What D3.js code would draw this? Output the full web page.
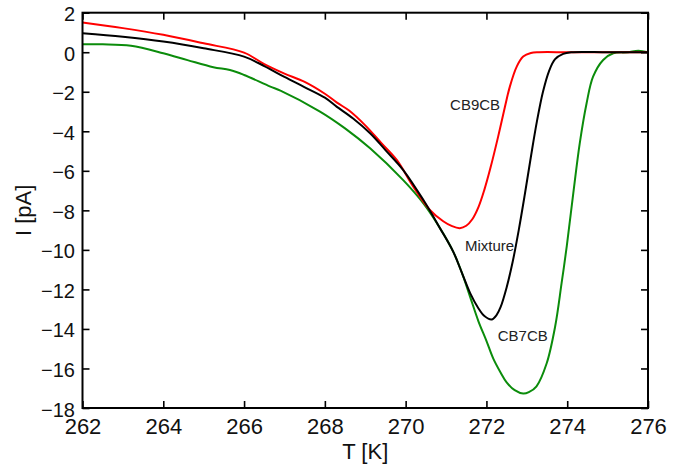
<!DOCTYPE html>
<html>
<head>
<meta charset="utf-8">
<script src="https://cdn.jsdelivr.net/npm/d3@7"></script>
<style>
  html, body { margin: 0; padding: 0; background: #fff; }
  svg { display: block; font-family: "Liberation Sans", Arial, Helvetica, sans-serif; }
</style>
</head>
<body>
<svg id="chart" width="685" height="468"></svg>
<script>
// Temperature (K) and current (pA) for each sample
const cb9cbT = [262, 263, 264, 265, 266, 266.5, 267, 267.5, 268, 268.3, 268.6, 269, 269.4, 269.78, 270.19, 270.6, 270.93, 271.15, 271.34, 271.5, 271.65, 271.8, 271.95, 272.1, 272.29, 272.46, 272.58, 272.75, 272.91, 273.1, 273.3, 274, 275, 276];
const cb9cbI = [1.5, 1.22, 0.88, 0.45, -0.02, -0.6, -1.08, -1.5, -2.1, -2.55, -2.95, -3.7, -4.6, -5.45, -6.8, -7.98, -8.55, -8.8, -8.9, -8.78, -8.45, -7.85, -6.95, -5.85, -4.27, -2.75, -1.74, -0.73, -0.22, -0.04, 0, 0, 0, 0];

const mixT = [262, 263, 264, 265, 266, 266.5, 267, 267.47, 268, 268.29, 268.7, 269.12, 269.5, 269.94, 270.44, 270.85, 271.18, 271.4, 271.6, 271.8, 271.95, 272.13, 272.25, 272.35, 272.5, 272.65, 272.8, 272.95, 273.1, 273.25, 273.4, 273.55, 273.7, 273.9, 274.1, 275, 276];
const mixI = [0.96, 0.78, 0.54, 0.2, -0.22, -0.7, -1.25, -1.74, -2.3, -2.75, -3.35, -4.1, -4.95, -5.96, -7.48, -8.9, -10.1, -11.2, -12.2, -12.95, -13.35, -13.52, -13.3, -12.9, -11.9, -10.6, -9.0, -7.2, -5.3, -3.5, -2.0, -0.95, -0.35, -0.08, 0, 0, 0];

const cb7cbT = [262, 262.5, 263.2, 264, 264.6, 265.24, 265.65, 266, 266.65, 266.9, 267.88, 268.5, 269.12, 269.94, 270.44, 270.85, 271.18, 271.4, 271.6, 271.8, 272.0, 272.17, 272.35, 272.5, 272.7, 272.91, 273.05, 273.24, 273.49, 273.7, 273.86, 273.99, 274.15, 274.31, 274.48, 274.64, 274.89, 275.14, 275.5, 275.76, 276];
const cb7cbI = [0.4, 0.4, 0.33, -0.05, -0.4, -0.76, -0.9, -1.15, -1.74, -1.94, -3.0, -3.85, -4.86, -6.47, -7.65, -8.9, -10.1, -11.2, -12.4, -13.6, -14.6, -15.5, -16.2, -16.7, -17.1, -17.27, -17.2, -16.9, -15.75, -13.89, -11.7, -9.8, -7.14, -4.61, -2.58, -1.24, -0.39, -0.05, 0, 0.08, 0];

const xTicks = [262, 264, 266, 268, 270, 272, 274, 276];
const yTicks = [2, 0, -2, -4, -6, -8, -10, -12, -14, -16, -18];

const seriesNames = ["CB9CB", "Mixture", "CB7CB"];
const seriesColors = ["#ff0000", "#000000", "#0b8c0b"];
// label anchor in data units (T, I)
const labelT = [271.1, 271.47, 272.28];
const labelI = [-2.92, -10.06, -14.6];

const svg = d3.select("#chart");
const plotLeft = 82.5, plotRight = 648, plotTop = 12.7, plotBottom = 408;

const x = d3.scaleLinear().domain([262, 276]).range([plotLeft, plotRight]);
const y = d3.scaleLinear().domain([-18, 2]).range([plotBottom, plotTop]);

const series = [
  { name: seriesNames[0], color: seriesColors[0], pts: cb9cbT.map((t, i) => [t, cb9cbI[i]]) },
  { name: seriesNames[1], color: seriesColors[1], pts: mixT.map((t, i) => [t, mixI[i]]) },
  { name: seriesNames[2], color: seriesColors[2], pts: cb7cbT.map((t, i) => [t, cb7cbI[i]]) }
];

const line = d3.line()
  .x(d => x(d[0]))
  .y(d => y(d[1]))
  .curve(d3.curveCatmullRom.alpha(0.5));

// curves: green first, then red, then black on top
[2, 0, 1].forEach(k => {
  svg.append("path")
    .attr("d", line(series[k].pts))
    .attr("fill", "none")
    .attr("stroke", series[k].color)
    .attr("stroke-width", 2);
});

// axes with inward ticks on all four sides
const tickLen = 7;
function styleAxis(g) {
  g.select(".domain").remove();
  g.selectAll(".tick line").attr("stroke", "#000").attr("stroke-width", 1.6);
}

svg.append("g")
  .attr("transform", `translate(0,${plotBottom})`)
  .call(d3.axisBottom(x).tickValues(xTicks).tickSize(-tickLen).tickPadding(10).tickFormat(d3.format("d")))
  .call(styleAxis)
  .call(g => g.selectAll("text").attr("font-size", 22).attr("fill", "#111").style("font-family", "Liberation Sans, Arial, sans-serif"));

svg.append("g")
  .attr("transform", `translate(0,${plotTop})`)
  .call(d3.axisTop(x).tickValues(xTicks).tickSize(-tickLen).tickFormat(""))
  .call(styleAxis);

svg.append("g")
  .attr("transform", `translate(${plotLeft},0)`)
  .call(d3.axisLeft(y).tickValues(yTicks).tickSize(-tickLen).tickPadding(7.5).tickFormat(d3.format("d")))
  .call(styleAxis)
  .call(g => g.selectAll("text").attr("font-size", 20).attr("fill", "#111").attr("dy", "0.4em").style("font-family", "Liberation Sans, Arial, sans-serif"));

svg.append("g")
  .attr("transform", `translate(${plotRight},0)`)
  .call(d3.axisRight(y).tickValues(yTicks).tickSize(-tickLen).tickFormat(""))
  .call(styleAxis);

// frame
svg.append("rect")
  .attr("x", plotLeft).attr("y", plotTop)
  .attr("width", plotRight - plotLeft).attr("height", plotBottom - plotTop)
  .attr("fill", "none").attr("stroke", "#000").attr("stroke-width", 2);

// series labels
series.forEach((s, i) => {
  svg.append("text")
    .attr("x", x(labelT[i])).attr("y", y(labelI[i]))
    .attr("font-size", 15).attr("fill", "#222")
    .text(s.name);
});

// axis titles
svg.append("text")
  .attr("x", (plotLeft + plotRight) / 2).attr("y", 459)
  .attr("text-anchor", "middle").attr("font-size", 22).attr("fill", "#111")
  .text("T [K]");

svg.append("text")
  .attr("transform", `translate(31,${(plotTop + plotBottom) / 2}) rotate(-90)`)
  .attr("text-anchor", "middle").attr("font-size", 22).attr("fill", "#111")
  .text("I [pA]");
</script>
</body>
</html>
